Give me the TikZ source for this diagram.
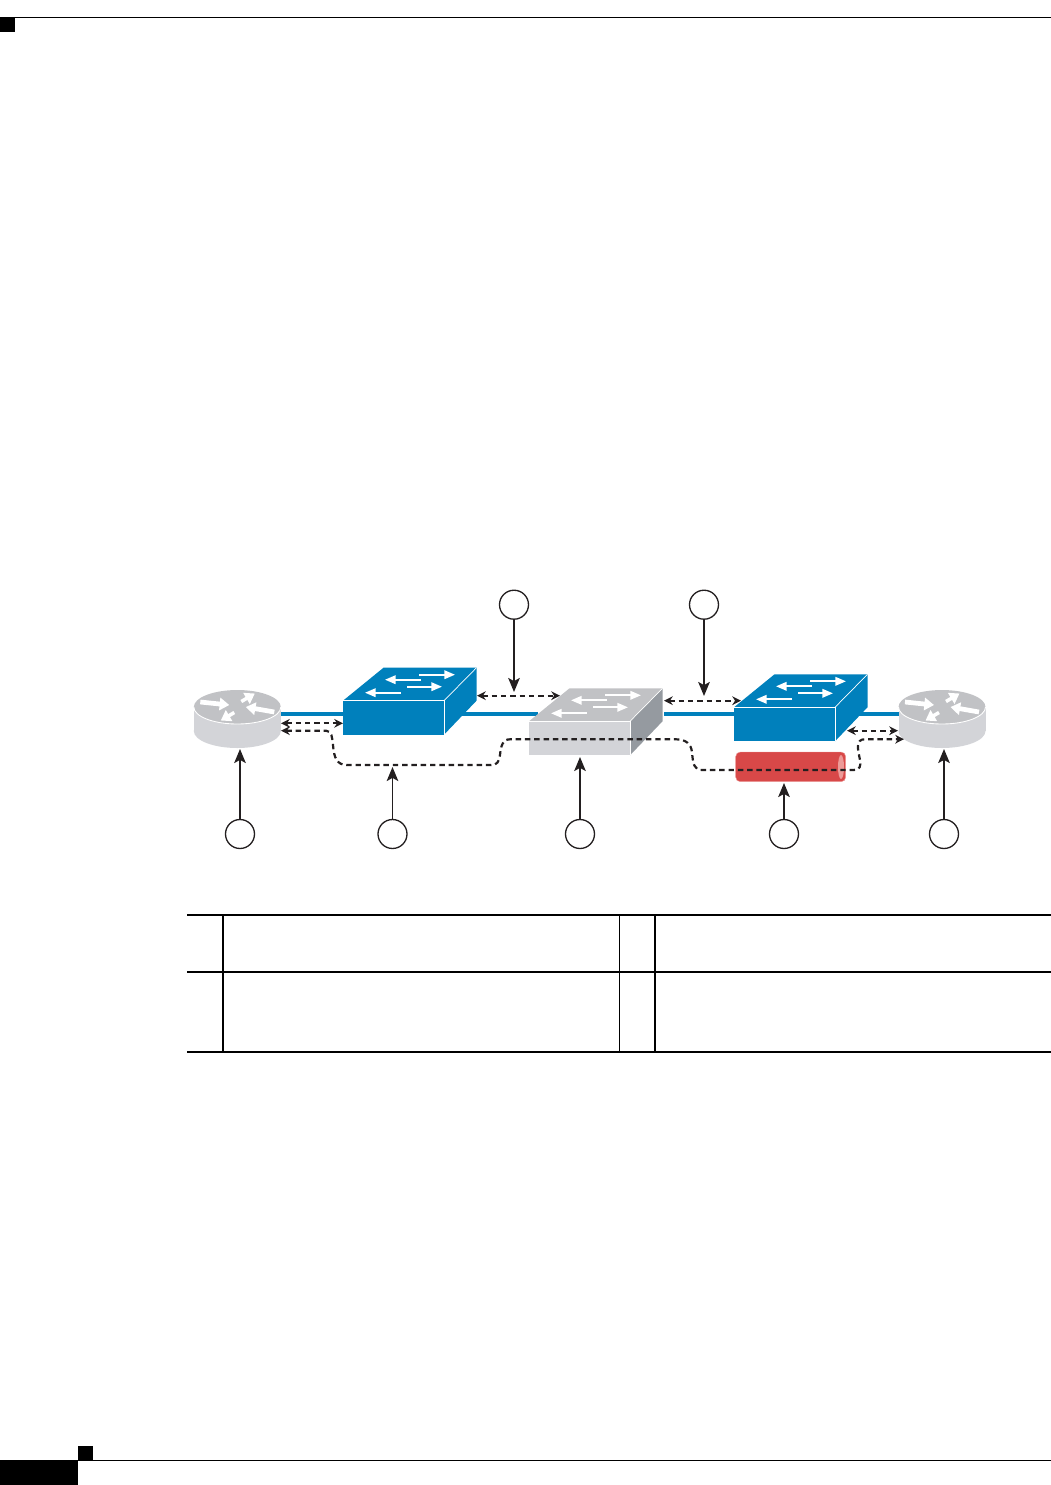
\documentclass[tikz,border=0pt]{standalone}
\usetikzlibrary{arrows.meta}
\definecolor{ink}{HTML}{231F20}
\definecolor{linkblue}{HTML}{0080BC}
\definecolor{greytop}{HTML}{C1C2C5}
\definecolor{greyfront}{HTML}{D3D4D8}
\definecolor{greyside}{HTML}{959AA0}
\definecolor{tubered}{HTML}{D84848}
\definecolor{tubepale}{HTML}{EC9A98}
\tikzset{
  callout/.style={draw=ink,line width=.75pt,fill=white,circle,minimum size=.58cm,inner sep=0pt},
  pointer/.style={draw=ink,line width=.9pt,-{Stealth[inset=1.8pt,length=8pt,width=6.6pt]}},
  dashend/.style={draw=ink,line width=1.25pt,dash pattern=on 3.1pt off 2.2pt},
  dashline/.style={dashend,{Stealth[length=5pt,width=5pt]}-{Stealth[length=5pt,width=5pt]}},
  link/.style={draw=linkblue,line width=2.2pt},
  rule/.style={draw=black,line width=.62pt},
  swarrow/.style={draw=white,line width=1.1pt,-{Triangle[length=6pt,width=4.8pt]}},
  rtarrow/.style={draw=white,line width=2.7pt,-{Triangle[length=5.5pt,width=7pt]}},
  pics/switchbox/.style n args={3}{code={
    \fill[#2] (0,0)--(40.5,-33)--(133.5,-33)--(101,0)--cycle;
    \fill[#3] (101,0)--(133.5,-33)--(133.5,0)--(101,34)--cycle;
    \fill[#1] (0,0) rectangle (101,34);
    \draw[white,line width=.4pt] (0,0)--(101,0)--(101,34);
    \draw[white,line width=.4pt] (101,0)--(133.5,-33);
    \draw[swarrow] (76,-26)--(112,-26);
    \draw[swarrow] (78,-21)--(42,-21);
    \draw[swarrow] (64,-14)--(99,-14);
    \draw[swarrow] (58,-8)--(22,-8);
  }},
  pics/routerbox/.style={code={
    \fill[greyfront] (-43.5,0) rectangle (43.5,24);
    \fill[greyfront] (0,24) ellipse [x radius=43.5,y radius=17];
    \fill[greytop] (0,0) ellipse [x radius=43.5,y radius=17];
    \draw[white,line width=.5pt] (-43.5,0) arc [start angle=180,end angle=0,x radius=43.5,y radius=17];
    \draw[rtarrow] (-37,-5)--(-8,-2);
    \draw[rtarrow] (37,5)--(8.5,0);
    \draw[rtarrow,line width=2pt] (4,-5.5)--(17.5,-13.5);
    \draw[rtarrow,line width=2pt] (-3,5.5)--(-16.5,13.5);
  }}
}

\begin{document}
\begin{tikzpicture}[x=.02cm,y=-.02cm]
  \useasboundingbox (0,0) rectangle (1051,1485);

  % page furniture
  \draw[rule] (0,17.3)--(1051,17.3);
  \fill[black] (0,17) rectangle (15,32);
  \fill[black] (0,1460) rectangle (78,1485);
  \fill[black] (78,1446) rectangle (93,1460);
  \draw[rule] (78,1460.5)--(1051,1460.5);

  % table
  \draw[black,line width=1.15pt] (187,915)--(1051,915);
  \foreach \y in {972,1052}{\draw[rule] (187,\y)--(1051,\y);}
  \foreach \x in {223,619.5,655}{\draw[rule] (\x,915)--(\x,1052);}

  % links
  \draw[link] (281,714)--(343,714);
  \draw[link] (462,714)--(538,714);
  \draw[link] (664,714)--(734,714);
  \draw[link] (859,714)--(899,714);

  % devices
  \pic at (237.3,707) {routerbox};
  \pic at (942,707) {routerbox};
  \pic at (343,700.7) {switchbox={linkblue}{linkblue}{linkblue}};
  \pic at (529,721.3) {switchbox={greyfront}{greytop}{greyside}};
  \pic at (734,707.3) {switchbox={linkblue}{linkblue}{linkblue}};

  % tunnel
  \fill[tubered,draw=tubepale,line width=.25pt,rounded corners=2.6pt] (735.7,752) rectangle (845.7,781.7);
  \fill[tubepale] (841,767) ellipse [x radius=3,y radius=12];

  % dashed sessions
  \coordinate (rtaup) at (281,723.3);
  \coordinate (swaleft) at (343,723.3);
  \coordinate (swaright) at (477,695.7);
  \coordinate (swbleft) at (560,695.7);
  \coordinate (swbright) at (664,700.7);
  \coordinate (swcleft) at (741,700.7);
  \coordinate (swcright) at (847,730.7);
  \coordinate (rtbup) at (898,730.7);
  \coordinate (rtalow) at (281,730.7);
  \coordinate (rtblow) at (904,739.2);
  \draw[dashline] (rtaup)--(swaleft);
  \draw[dashline] (swaright)--(swbleft);
  \draw[dashline] (swbright)--(swcleft);
  \draw[dashline] (swcright)--(rtbup);
  \draw[dashline] (rtalow)--(326,730.7)
    .. controls (332,731) and (332,737) .. (333,745)
    .. controls (334,758) and (337,765) .. (347,765)--(491,765)
    .. controls (497,765) and (499,762) .. (500,755)
    .. controls (501,745) and (503,739.3) .. (510,739.3)--(676,739.3)
    .. controls (686,739.3) and (691,744) .. (692,752)
    .. controls (693,764) and (694,770) .. (702,770)--(854,770)
    .. controls (860,770) and (861,766) .. (860,760)
    .. controls (858,750) and (855,739.2) .. (865,739.2)--(rtblow);

  % callouts
  \foreach \name/\x/\tipy in {rta/240/749,sess/392.5/767,swb/580/757,tube/784/783,rtb/944/749}{
    \node[callout] (call\name) at (\x,834) {};
    \coordinate (tip\name) at (\x,\tipy);
    \draw[pointer] (call\name)--(tip\name);
  }
  \foreach \name/\x/\tipy in {ab/514/692,bc/704/696}{
    \node[callout] (call\name) at (\x,604.7) {};
    \coordinate (tip\name) at (\x,\tipy);
    \draw[pointer] (call\name)--(tip\name);
  }
\end{tikzpicture}
\end{document}
